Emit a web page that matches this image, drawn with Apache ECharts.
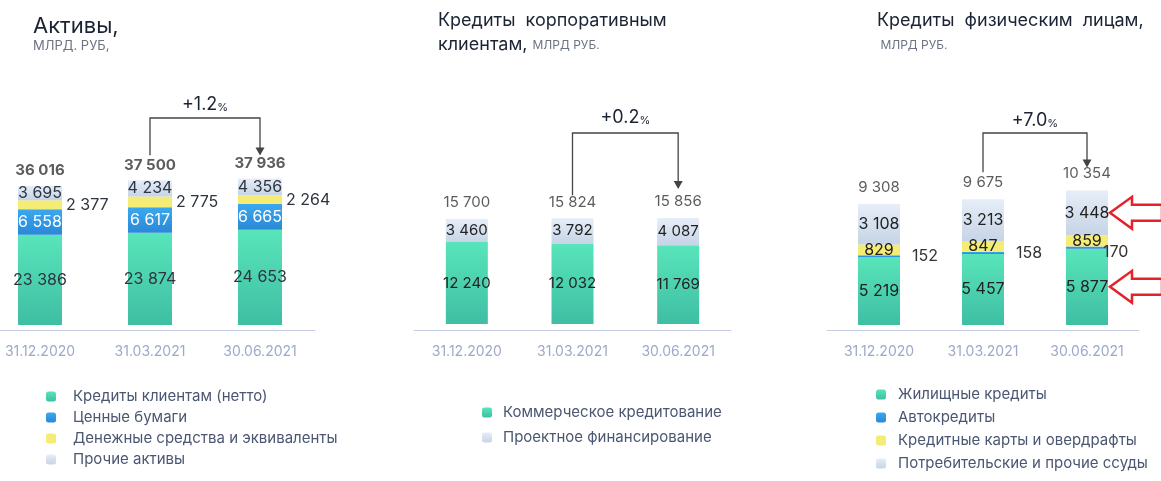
<!DOCTYPE html>
<html><head><meta charset="utf-8">
<script src="https://cdn.jsdelivr.net/npm/echarts@6/dist/echarts.min.js"></script>
<style>html,body{margin:0;padding:0;background:#fff}#c{width:1161px;height:481px}</style>
</head><body><div id="c"></div>
<script>
const categories = ['31.12.2020', '31.03.2021', '30.06.2021'];
// Активы
const assetsLoans = [23386, 23874, 24653];
const assetsSecurities = [6558, 6617, 6665];
const assetsCash = [2377, 2775, 2264];
const assetsOther = [3695, 4234, 4356];
const assetsTotal = [36016, 37500, 37936];
const assetsChange = '+1.2';
// Кредиты корпоративным клиентам
const corpCommercial = [12240, 12032, 11769];
const corpProject = [3460, 3792, 4087];
const corpTotal = [15700, 15824, 15856];
const corpChange = '+0.2';
// Кредиты физическим лицам
const retailMortgage = [5219, 5457, 5877];
const retailAuto = [152, 158, 170];
const retailCards = [829, 847, 859];
const retailConsumer = [3108, 3213, 3448];
const retailTotal = [9308, 9675, 10354];
const retailChange = '+7.0';

const FONT = 'Inter, "Noto Sans", sans-serif';
const fmt = v => String(v).replace(/\B(?=(\d{3})+(?!\d))/g, ' ');
const grad = (a, b) => ({type: 'linear', x: 0, y: 0, x2: 0, y2: 1, colorStops: [{offset: 0, color: a}, {offset: 1, color: b}]});
const GREEN = grad('#58e5ba', '#3fbea3');
const BLUE = grad('#3ba8ee', '#2a88d8');
const YELLOW = '#f4ec74';
const GRAY = grad('#e6eef8', '#c6d4e6');

function bar(name, data, gi, color, width, labelCfg) {
  return {
    name, type: 'bar', stack: 'st' + gi, xAxisIndex: gi, yAxisIndex: gi,
    barWidth: width, data, itemStyle: {color},
    label: Object.assign({show: true, position: 'inside', fontFamily: FONT, formatter: p => fmt(p.value)}, labelCfg),
    silent: true
  };
}
function totals(data, gi, labelCfg) {
  return {
    type: 'scatter', xAxisIndex: gi, yAxisIndex: gi, data, symbolSize: 1,
    itemStyle: {color: 'rgba(0,0,0,0)'}, silent: true, z: 10,
    label: Object.assign({show: true, position: 'top', fontFamily: FONT, formatter: p => fmt(p.value)}, labelCfg)
  };
}

const grids = [
  {left: -15, width: 330, top: 130, height: 200, outerBoundsMode: 'none', containLabel: false},
  {left: 414, width: 317, top: 130, height: 200, outerBoundsMode: 'none', containLabel: false},
  {left: 827, width: 312, top: 130, height: 200, outerBoundsMode: 'none', containLabel: false}
];
const yRanges = [[-1300, 50500], [-900, 29000], [-380, 15000]];

const xAxes = grids.map((g, i) => ({
  type: 'category', gridIndex: i, data: categories,
  axisLine: {onZero: false, lineStyle: {color: '#c8cfe2', width: 1}},
  axisTick: {show: false},
  axisLabel: {color: '#9ea9c8', fontSize: 14, margin: 15, fontFamily: FONT}
}));
const yAxes = yRanges.map((r, i) => ({type: 'value', gridIndex: i, min: r[0], max: r[1], show: false, splitLine: {show: false}}));

const dark = '#2e3440';
const series = [
  bar('Кредиты клиентам (нетто)', assetsLoans, 0, GREEN, 44, {color: dark, fontSize: 16}),
  bar('Ценные бумаги', assetsSecurities, 0, BLUE, 44, {color: '#fff', fontSize: 16}),
  bar('Денежные средства и эквиваленты', assetsCash, 0, YELLOW, 44, {position: 'right', distance: 4, color: dark, fontSize: 16}),
  bar('Прочие активы', assetsOther, 0, GRAY, 44, {color: dark, fontSize: 16}),
  totals(assetsTotal, 0, {fontSize: 15, fontWeight: 'bold', color: '#333', distance: 7}),

  bar('Коммерческое кредитование', corpCommercial, 1, GREEN, 42, {color: '#222', fontSize: 15}),
  bar('Проектное финансирование', corpProject, 1, GRAY, 42, {color: '#222', fontSize: 15}),
  totals(corpTotal, 1, {fontSize: 15, color: '#333', distance: 8}),

  bar('Жилищные кредиты', retailMortgage, 2, GREEN, 42, {color: '#222', fontSize: 16}),
  bar('Автокредиты', retailAuto.map((v, i) => i === 2 ? {value: v, label: {distance: -5, offset: [0, 5]}} : v), 2, BLUE, 42,
      {position: 'right', distance: 12, color: '#333', fontSize: 16}),
  bar('Кредитные карты и овердрафты', retailCards, 2, YELLOW, 42, {color: '#222', fontSize: 16}),
  bar('Потребительские и прочие ссуды', retailConsumer, 2, GRAY, 42, {color: '#222', fontSize: 16}),
  totals(retailTotal, 2, {fontSize: 15, color: '#333', distance: 9})
];

const legendBase = {orient: 'vertical', icon: 'roundRect', itemWidth: 10, itemHeight: 10, selectedMode: false, padding: 0};
const legendText = pad => ({fontFamily: FONT, color: '#4b5672', fontSize: 15, padding: [0, 0, 0, pad]});
const legends = [
  Object.assign({}, legendBase, {left: 46, top: 389, itemGap: 6, textStyle: legendText(12),
    data: ['Кредиты клиентам (нетто)', 'Ценные бумаги', 'Денежные средства и эквиваленты', 'Прочие активы']}),
  Object.assign({}, legendBase, {left: 482, top: 405, itemGap: 10, textStyle: legendText(6),
    data: ['Коммерческое кредитование', 'Проектное финансирование']}),
  Object.assign({}, legendBase, {left: 876, top: 387, itemGap: 8, textStyle: legendText(7),
    data: ['Жилищные кредиты', 'Автокредиты', 'Кредитные карты и овердрафты', 'Потребительские и прочие ссуды']})
];

const richTitle = {
  a: {fontFamily: FONT, fontSize: 18, fontWeight: 'normal', color: '#1b2434', lineHeight: 24},
  b: {fontFamily: FONT, fontSize: 12, fontWeight: 'normal', color: '#6c7385', lineHeight: 24}
};
const titles = [
  {left: 33, top: 10, padding: [5, 0, 5, 0], text: 'Активы,', subtext: 'МЛРД. РУБ,', itemGap: 3,
   textStyle: {fontFamily: FONT, fontSize: 22, fontWeight: 'normal', color: '#1b2434'},
   subtextStyle: {fontFamily: FONT, fontSize: 13, color: '#6c7385'}},
  {left: 438, top: 9, padding: 0, text: '{a|Кредиты  корпоративным}\n{a|клиентам, }{b|МЛРД РУБ.}',
   textStyle: {fontWeight: 'normal', rich: richTitle}},
  {left: 877, top: 9, padding: 0, text: '{a|Кредиты  физическим  лицам,}\n{b| МЛРД РУБ.}',
   textStyle: {fontWeight: 'normal', rich: richTitle}}
];

const chart = echarts.init(document.getElementById('c'), null, {renderer: 'canvas'});
chart.setOption({
  animation: false,
  textStyle: {fontFamily: FONT},
  title: titles, legend: legends, grid: grids, xAxis: xAxes, yAxis: yAxes, series
});

// Annotations (brackets and arrows) anchored to the library's scales
const stackTop = (gi, i, v) => chart.convertToPixel({gridIndex: gi}, [i, v]);
const brackets = [
  {gi: 0, tot: assetsTotal, text: assetsChange, lineY: 118, textY: 105, gapL: 25, gapR: 23},
  {gi: 1, tot: corpTotal, text: corpChange, lineY: 133, textY: 118, gapL: 23, gapR: 29},
  {gi: 2, tot: retailTotal, text: retailChange, lineY: 133, textY: 121, gapL: 27, gapR: 23}
];
const elements = [];
brackets.forEach(b => {
  const p1 = stackTop(b.gi, 1, b.tot[1]);
  const p2 = stackTop(b.gi, 2, b.tot[2]);
  const tipY = p2[1] - b.gapR;
  elements.push({type: 'polyline', silent: true,
    shape: {points: [[p1[0], p1[1] - b.gapL], [p1[0], b.lineY], [p2[0], b.lineY], [p2[0], tipY - 7]]},
    style: {stroke: '#444', lineWidth: 1.3, fill: null}});
  elements.push({type: 'polygon', silent: true,
    shape: {points: [[p2[0] - 4.5, tipY - 8], [p2[0] + 4.5, tipY - 8], [p2[0], tipY]]},
    style: {fill: '#444'}});
  elements.push({type: 'text', silent: true, x: (p1[0] + p2[0]) / 2, y: b.textY,
    style: {text: '{n|' + b.text + '}{p|%}', align: 'center', verticalAlign: 'middle',
      textAlign: 'center', textVerticalAlign: 'middle',
      rich: {n: {fontFamily: FONT, fontSize: 18, fill: '#1b2434', color: '#1b2434'},
             p: {fontFamily: FONT, fontSize: 11, fill: '#1b2434', color: '#1b2434', padding: [5, 0, 0, 0]}}}});
});
// red outline arrows pointing at the latest retail values
const arrowPts = [[0, 0], [22, -16], [22, -8], [52, -8], [52, 8], [22, 8], [22, 16]];
[retailMortgage[2] + retailAuto[2] + retailCards[2] + retailConsumer[2] / 2, retailMortgage[2] / 2].forEach(v => {
  const p = stackTop(2, 2, v);
  const x0 = p[0] + 21 + 2;
  elements.push({type: 'polygon', silent: true,
    shape: {points: arrowPts.map(q => [x0 + q[0], p[1] + q[1]])},
    style: {fill: null, stroke: '#e3222a', lineWidth: 2.5, lineJoin: 'miter'}});
});
chart.setOption({graphic: {elements}});
</script>
</body></html>
